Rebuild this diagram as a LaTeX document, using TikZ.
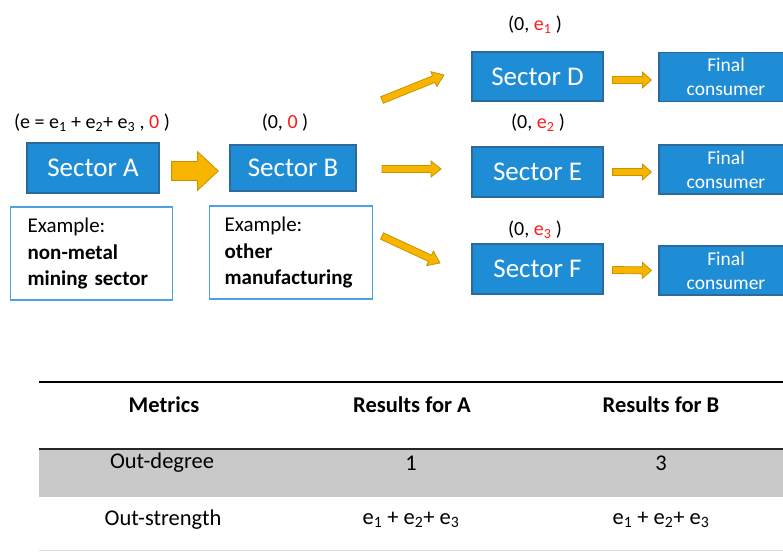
\documentclass[tikz,border=0pt]{standalone}
\usepackage{fontspec}
\setmainfont{Carlito}
\usetikzlibrary{calc}
\definecolor{secblue}{HTML}{1F8DD6}
\definecolor{secedge}{HTML}{2D6A9C}
\definecolor{arrfill}{HTML}{F7B500}
\definecolor{arredge}{HTML}{C99400}
\definecolor{exedge}{HTML}{4CA3DD}
\definecolor{rowgray}{HTML}{C9C9C9}
\definecolor{numred}{HTML}{FF1A1A}
\newcommand\blockarrow[5]{%
  \coordinate (ba-h) at ($(#2)!#5!(#1)$);
  \filldraw[blockarr] ($(#1)!#3!90:(#2)$) -- ($(ba-h)!#3!90:(#2)$) -- ($(ba-h)!#4!90:(#2)$) -- (#2)
    -- ($(ba-h)!#4!-90:(#2)$) -- ($(ba-h)!#3!-90:(#2)$) -- ($(#1)!#3!-90:(#2)$) -- cycle;
}
\tikzset{
  sector/.style={fill=secblue, draw=secedge, line width=1.2pt, text=white, inner sep=0pt,
     font=\fontsize{27}{30}\selectfont},
  final/.style={fill=secblue, draw=secedge, line width=1.2pt, text=white, inner sep=0pt, align=center,
     minimum width=134pt, minimum height=49pt, font=\fontsize{19.5}{24}\selectfont},
  exbox/.style={draw=exedge, line width=1.3pt, align=left, anchor=west, inner ysep=0pt,
     font=\fontsize{21}{26.5}\selectfont},
  pair/.style={font=\fontsize{20}{24}\selectfont, inner sep=0pt},
  blockarr/.style={fill=arrfill, draw=arredge, line width=0.8pt, line join=miter},
  cell/.style={font=\fontsize{22.5}{26}\selectfont, inner sep=0pt},
  head/.style={font=\fontsize{22.5}{26}\bfseries\selectfont, inner sep=0pt}
}
\begin{document}
\begin{tikzpicture}[x=1pt,y=-1pt]
\useasboundingbox (0,0) rectangle (783,551);
\clip (0,0) rectangle (783,551);
% sectors
\node[sector, minimum width=132pt, minimum height=50pt] (A) at (93,168) {Sector A};
\node[sector, minimum width=126pt, minimum height=46pt] (B) at (293,168) {Sector B};
\node[sector, minimum width=131pt, minimum height=49pt] (D) at (537.5,76.5) {Sector D};
\node[sector, minimum width=131pt, minimum height=50pt] (E) at (537.5,172) {Sector E};
\node[sector, minimum width=131pt, minimum height=50pt] (F) at (537.5,269) {Sector F};
\node[final] (FD) at (726,77) {Final\\consumer};
\node[final] (FE) at (726,169.5) {Final\\consumer};
\node[final] (FF) at (726,270.5) {Final\\consumer};
% example boxes
\node[exbox, minimum width=162pt, minimum height=93pt, text width=128pt, inner xsep=17pt] (exA) at (10,253.5)
  {Example:\\\textbf{non-metal}\\\textbf{mining sector}};
\node[exbox, minimum width=163pt, minimum height=93pt, text width=133pt, inner xsep=15pt] (exB) at (209,252.5)
  {Example:\\\textbf{other}\\\textbf{manufacturing}};
% pair labels
\node[pair] (lA) at (92,123) {(e = e\textsubscript{1} + e\textsubscript{2}+ e\textsubscript{3} , \textcolor{numred}{0} )};
\node[pair] (lB) at (285,123) {(0, \textcolor{numred}{0} )};
\node[pair] (lD) at (535,25) {(0, \textcolor{numred}{e\textsubscript{1}} )};
\node[pair] (lE) at (538,123) {(0, \textcolor{numred}{e\textsubscript{2}} )};
\node[pair] (lF) at (535,230) {(0, \textcolor{numred}{e\textsubscript{3}} )};
% arrows
\coordinate (abS) at ($(A.east)+(12,3)$);
\coordinate (abT) at ($(B.west)+(-11,3)$);
\blockarrow{abS}{abT}{9.5pt}{19.5pt}{21pt}
\coordinate (bdS) at (382,100);
\coordinate (bdT) at (444,75);
\blockarrow{bdS}{bdT}{3.5pt}{8pt}{11pt}
\coordinate (beS) at (382,169);
\coordinate (beT) at (441,169);
\blockarrow{beS}{beT}{3.5pt}{8pt}{10pt}
\coordinate (bfS) at (382,236);
\coordinate (bfT) at (440,263);
\blockarrow{bfS}{bfT}{3.5pt}{8pt}{11pt}
\coordinate (dS) at ($(D.east)+(9,3.5)$);
\coordinate (dT) at ($(FD.west)+(-7,3)$);
\blockarrow{dS}{dT}{3.5pt}{8pt}{9pt}
\coordinate (eS) at ($(E.east)+(9,0)$);
\coordinate (eT) at ($(FE.west)+(-7,2.5)$);
\blockarrow{eS}{eT}{3.5pt}{8pt}{9pt}
\coordinate (fS) at ($(F.east)+(9,1)$);
\coordinate (fT) at ($(FF.west)+(-7,0)$);
\blockarrow{fS}{fT}{3.5pt}{8pt}{9pt}
% table
\fill[rowgray] (39,449) rectangle (783,497);
\draw[line width=2.5pt] (39,382) -- (783,382);
\draw[line width=2pt, black!85] (39,449) -- (783,449);
\draw[line width=0.8pt, black!12] (39,550) -- (783,550);
\node[head] (h1) at (164,405) {Metrics};
\node[head] (h2) at (412,405) {Results for A};
\node[head] (h3) at (661,405) {Results for B};
\node[cell] (r11) at (162,463) {Out-degree};
\node[cell] (r12) at (411,463) {1};
\node[cell] (r13) at (661,463) {3};
\node[cell] (r21) at (163,520) {Out-strength};
\node[cell] (r22) at (411,520) {e\textsubscript{1} + e\textsubscript{2}+ e\textsubscript{3}};
\node[cell] (r23) at (661,520) {e\textsubscript{1} + e\textsubscript{2}+ e\textsubscript{3}};
\end{tikzpicture}
\end{document}
